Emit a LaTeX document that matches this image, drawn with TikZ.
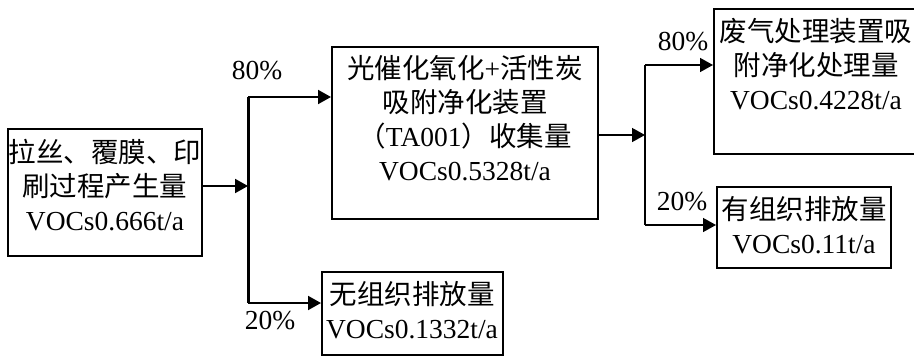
\documentclass[tikz,border=0pt]{standalone}
\usepackage{fontspec}
\setmainfont{Liberation Serif}
\newfontfamily\cjk{Noto Sans CJK SC}
\usetikzlibrary{arrows.meta}
\begin{document}
\begin{tikzpicture}[x=1pt,y=-1pt,
  box/.style={draw,line width=2pt,inner sep=0pt},
  txt/.style={inner sep=0pt,align=center,font=\fontsize{27.5}{34}\selectfont},
  conn/.style={line width=2pt,-{Triangle[length=13pt,width=14pt]}},
  connr/.style={line width=1.5pt,-{Triangle[length=13pt,width=14pt]}}]
\clip (0,0) rectangle (914,357);
\fill[white] (0,0) rectangle (914,357);
% boxes
\node[box,minimum width=194pt,minimum height=127pt] (b1) at (105,192.5) {};
\node[box,minimum width=266pt,minimum height=172pt] (b2) at (465,133) {};
\node[box,minimum width=181pt,minimum height=83pt] (b3) at (412.5,313.5) {};
\node[box,minimum width=226pt,minimum height=145pt] (b4) at (827,81.5) {};
\node[box,minimum width=174pt,minimum height=81pt] (b5) at (804,227.5) {};
% texts
\node[txt] (t1) at (105,185) {{\cjk 拉丝、覆膜、印}\\{\cjk 刷过程产生量}\\VOCs0.666t/a};
\node[txt] (t2) at (465,118) {{\cjk 光催化氧化}+{\cjk 活性炭}\\{\cjk 吸附净化装置}\\{\cjk （}TA001{\cjk ）收集量}\\VOCs0.5328t/a};
\node[txt] (t3) at (412,310) {{\cjk 无组织排放量}\\VOCs0.1332t/a};
\node[txt] (t4) at (816,64) {{\cjk 废气处理装置吸}\\{\cjk 附净化处理量}\\VOCs0.4228t/a};
\node[txt] (t5) at (804,225) {{\cjk 有组织排放量}\\VOCs0.11t/a};
% labels
\node[txt] (l1) at (257,71) {80\%};
\node[txt] (l2) at (270,321) {20\%};
\node[txt] (l3) at (683,42) {80\%};
\node[txt] (l4) at (682,202) {20\%};
% connectors left
\coordinate (j1) at (248,186);
\coordinate (j1t) at (248,97);
\coordinate (j1b) at (248,303);
\draw[conn] (b1.east |- j1) -- (j1);
\draw[line width=3pt] (j1t) -- (j1b);
\draw[conn] (j1t) -- (j1t -| b2.west);
\draw[conn] (j1b) -- (j1b -| b3.west);
% connectors right
\coordinate (j2) at (645,135);
\coordinate (j2t) at (645,65);
\coordinate (j2b) at (645,225);
\draw[connr] (b2.east |- j2) -- (j2);
\draw[line width=1.5pt] (j2t) -- (j2b);
\draw[connr] (j2t) -- (j2t -| b4.west);
\draw[connr] (j2b) -- (j2b -| b5.west);
\end{tikzpicture}
\end{document}
